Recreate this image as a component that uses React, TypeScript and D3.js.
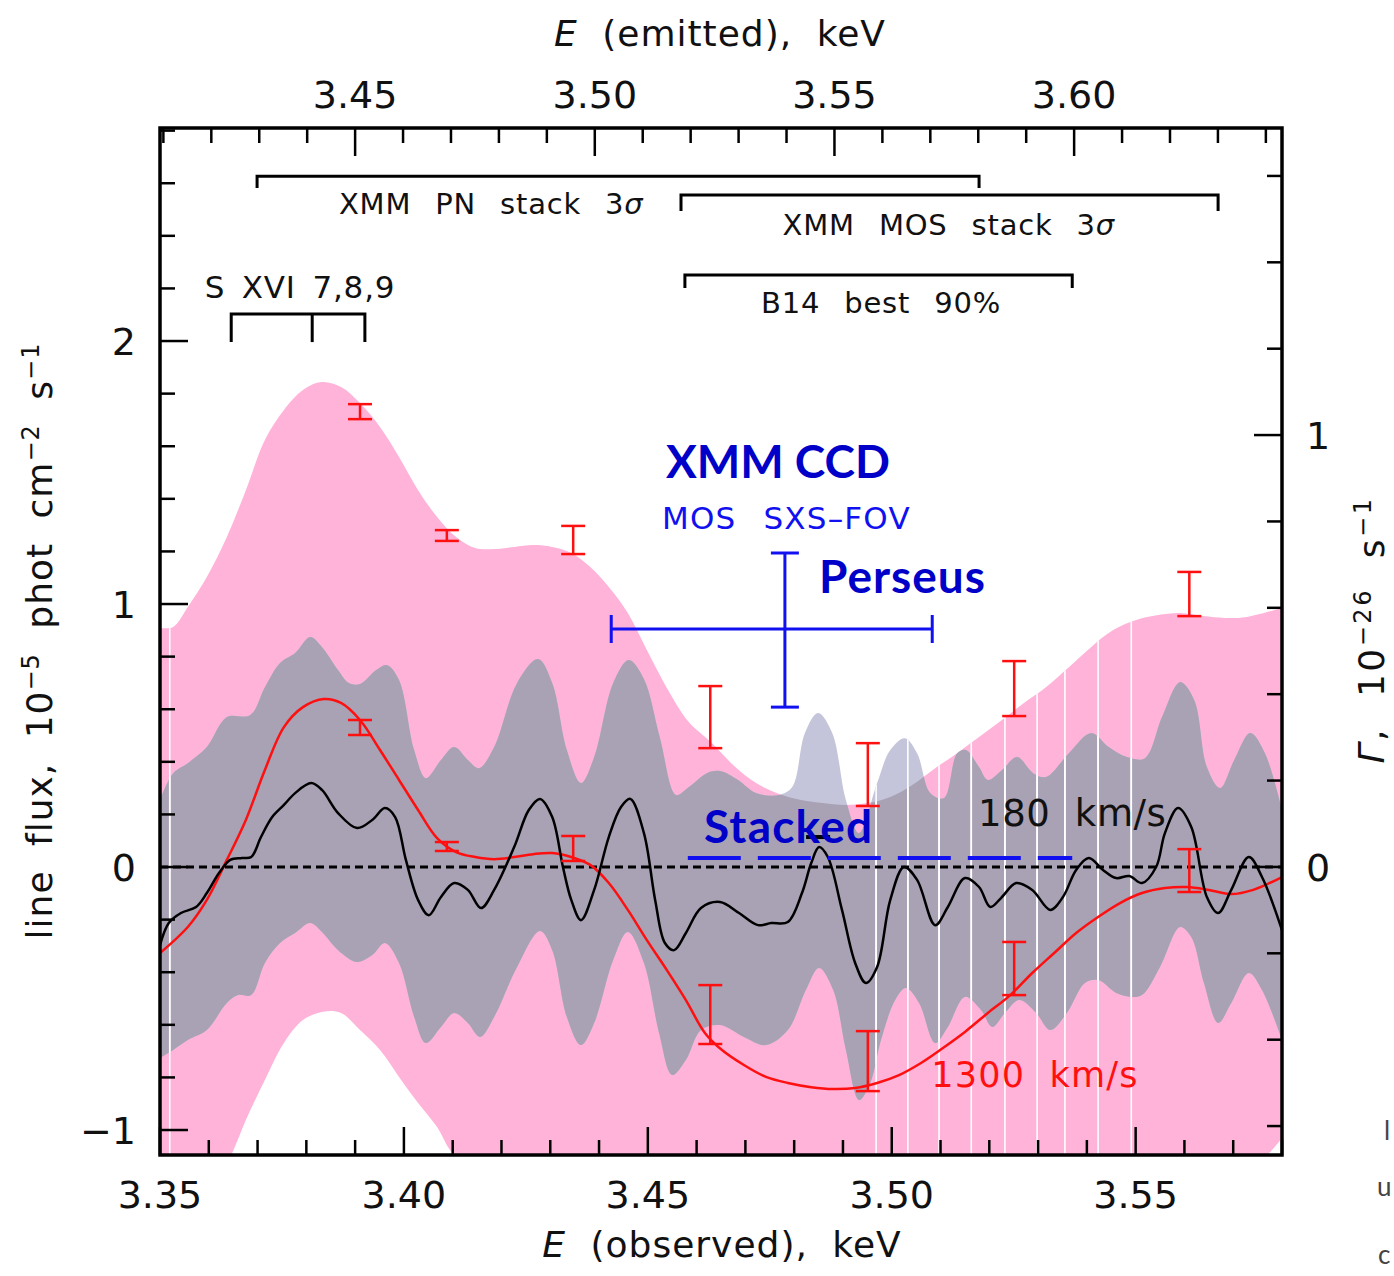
import React from "react";
import * as d3 from "d3";

type Pt = [number, number];

// Perseus redshift, links the observed (bottom) and emitted (top) energy axes
const z = 0.0177;
const obsDomain = [3.35, 3.58];
const fluxDomain = [-1.095, 2.81];
const gammaDomain = [-0.667, 1.711];

const obsTicks = [3.35, 3.4, 3.45, 3.5, 3.55];
const obsTickLabels = ["3.35", "3.40", "3.45", "3.50", "3.55"];
const emitTicks = [3.45, 3.5, 3.55, 3.6];
const emitTickLabels = ["3.45", "3.50", "3.55", "3.60"];
const fluxTicks = [-1, 0, 1, 2];
const fluxTickLabels = ["−1", "0", "1", "2"];
const gammaTicks = [0, 1];
const gammaTickLabels = ["0", "1"];

// 1300 km/s limit band (keV observed, line flux 1e-5)
const pinkUpper: Pt[] = [
  [3.35, 0.909], [3.3527, 0.913], [3.3557, 0.989], [3.3596, 1.103], [3.3637, 1.255],
  [3.3676, 1.433], [3.3715, 1.624], [3.3754, 1.738], [3.3793, 1.814], [3.3832, 1.844],
  [3.3871, 1.825], [3.391, 1.764], [3.3951, 1.673], [3.399, 1.559], [3.4029, 1.433],
  [3.4068, 1.331], [3.4107, 1.255], [3.4146, 1.213], [3.4185, 1.209], [3.4226, 1.217],
  [3.4265, 1.224], [3.4304, 1.217], [3.4343, 1.194], [3.4382, 1.141], [3.442, 1.065],
  [3.4459, 0.966], [3.4498, 0.825], [3.4539, 0.681], [3.4584, 0.551], [3.4629, 0.475],
  [3.4677, 0.384], [3.4722, 0.319], [3.4769, 0.278], [3.4814, 0.255], [3.4859, 0.243],
  [3.4904, 0.236], [3.4951, 0.243], [3.4997, 0.266], [3.5042, 0.312], [3.5089, 0.376],
  [3.5134, 0.433], [3.5179, 0.494], [3.5226, 0.559], [3.5271, 0.624], [3.5316, 0.684],
  [3.5363, 0.76], [3.5409, 0.837], [3.5454, 0.901], [3.5501, 0.939], [3.5546, 0.958],
  [3.5591, 0.966], [3.5638, 0.954], [3.5683, 0.947], [3.5728, 0.951], [3.58, 0.985],
];
const pinkLower: Pt[] = [
  [3.35, -1.53], [3.3582, -1.32], [3.3648, -1.087], [3.3676, -0.962], [3.3715, -0.81],
  [3.3754, -0.669], [3.3793, -0.582], [3.3832, -0.551], [3.3871, -0.555], [3.391, -0.62],
  [3.3951, -0.696], [3.399, -0.798], [3.4029, -0.897], [3.4068, -0.989], [3.4099, -1.087],
  [3.4156, -1.171], [3.4238, -1.133], [3.4289, -1.099], [3.4341, -1.152], [3.4443, -1.456],
  [3.4607, -1.95], [3.4812, -2.14], [3.5017, -2.1], [3.5222, -1.91], [3.5427, -1.53],
  [3.5591, -1.266], [3.5714, -1.133], [3.5759, -1.11], [3.58, -1.03],
];

// 180 km/s band
const grayUpper: Pt[] = [
  [3.35, 0.255], [3.3527, 0.357], [3.3557, 0.395], [3.3596, 0.456], [3.3637, 0.57],
  [3.3685, 0.578], [3.3715, 0.684], [3.3746, 0.776], [3.3777, 0.814], [3.3808, 0.875],
  [3.3832, 0.837], [3.3865, 0.749], [3.3887, 0.7], [3.391, 0.696], [3.3943, 0.749],
  [3.3965, 0.768], [3.399, 0.711], [3.4021, 0.445], [3.4045, 0.338], [3.4076, 0.407],
  [3.4103, 0.456], [3.4131, 0.407], [3.4154, 0.376], [3.4185, 0.456], [3.4232, 0.7],
  [3.4275, 0.791], [3.4304, 0.7], [3.4334, 0.445], [3.4363, 0.319], [3.439, 0.418],
  [3.4429, 0.7], [3.4461, 0.787], [3.4492, 0.715], [3.4525, 0.49], [3.4558, 0.274],
  [3.4584, 0.304], [3.4621, 0.357], [3.4648, 0.365], [3.4685, 0.331], [3.4722, 0.281],
  [3.4769, 0.274], [3.4796, 0.304], [3.4822, 0.51], [3.4849, 0.586], [3.4878, 0.51],
  [3.4906, 0.255], [3.4933, 0.129], [3.497, 0.319], [3.4997, 0.445], [3.5027, 0.49],
  [3.5052, 0.433], [3.5079, 0.281], [3.5107, 0.262], [3.5134, 0.433], [3.5152, 0.445],
  [3.5179, 0.38], [3.5197, 0.331], [3.5226, 0.369], [3.5257, 0.418], [3.529, 0.357],
  [3.5316, 0.342], [3.5363, 0.433], [3.5409, 0.51], [3.5445, 0.456], [3.5482, 0.418],
  [3.5519, 0.414], [3.5554, 0.57], [3.5591, 0.703], [3.562, 0.635], [3.5646, 0.38],
  [3.5673, 0.3], [3.5702, 0.407], [3.5735, 0.51], [3.5765, 0.433], [3.58, 0.217],
];
const grayLower: Pt[] = [
  [3.35, -0.726], [3.3527, -0.696], [3.3557, -0.658], [3.3596, -0.62], [3.3637, -0.517],
  [3.366, -0.487], [3.3687, -0.487], [3.3715, -0.365], [3.3746, -0.289], [3.3777, -0.251],
  [3.3808, -0.213], [3.3832, -0.247], [3.3865, -0.316], [3.3904, -0.361], [3.3935, -0.335],
  [3.3961, -0.289], [3.399, -0.365], [3.4021, -0.57], [3.4045, -0.669], [3.4076, -0.608],
  [3.4103, -0.555], [3.4131, -0.593], [3.4156, -0.646], [3.4185, -0.57], [3.4232, -0.38],
  [3.4279, -0.243], [3.4304, -0.316], [3.4334, -0.57], [3.4363, -0.677], [3.439, -0.593],
  [3.4429, -0.354], [3.4459, -0.247], [3.4492, -0.365], [3.4523, -0.631], [3.455, -0.791],
  [3.4578, -0.734], [3.4609, -0.62], [3.4648, -0.601], [3.4697, -0.646], [3.4742, -0.677],
  [3.4787, -0.62], [3.4824, -0.468], [3.4851, -0.384], [3.488, -0.468], [3.4906, -0.696],
  [3.4933, -0.886], [3.4956, -0.821], [3.4978, -0.658], [3.5007, -0.506], [3.5029, -0.46],
  [3.5056, -0.517], [3.5089, -0.669], [3.5115, -0.608], [3.515, -0.494], [3.5183, -0.544],
  [3.5206, -0.608], [3.5232, -0.555], [3.5261, -0.506], [3.5296, -0.555], [3.5325, -0.62],
  [3.5359, -0.555], [3.5396, -0.441], [3.5423, -0.43], [3.546, -0.479], [3.5491, -0.494],
  [3.5513, -0.487], [3.555, -0.38], [3.5591, -0.228], [3.5614, -0.266], [3.564, -0.441],
  [3.5669, -0.593], [3.5696, -0.517], [3.5732, -0.403], [3.5759, -0.468], [3.58, -0.658],
];

// best-fit line flux, 1300 km/s (red) and 180 km/s (black)
const broadFit: Pt[] = [
  [3.35, -0.327], [3.3557, -0.228], [3.3596, -0.125], [3.3637, 0.027], [3.3676, 0.179],
  [3.3715, 0.369], [3.3754, 0.532], [3.3793, 0.608], [3.3836, 0.639], [3.3871, 0.624],
  [3.391, 0.559], [3.3951, 0.445], [3.399, 0.331], [3.4029, 0.217], [3.4068, 0.11],
  [3.4107, 0.057], [3.4146, 0.038], [3.4185, 0.03], [3.4226, 0.038], [3.4265, 0.049],
  [3.4304, 0.053], [3.4343, 0.038], [3.4382, 0.008], [3.442, -0.061], [3.4459, -0.163],
  [3.4498, -0.278], [3.4539, -0.392], [3.4578, -0.506], [3.4617, -0.631], [3.4652, -0.696],
  [3.4697, -0.753], [3.4742, -0.798], [3.4787, -0.821], [3.4835, -0.837], [3.488, -0.844],
  [3.4925, -0.84], [3.497, -0.821], [3.5015, -0.791], [3.506, -0.745], [3.5105, -0.688],
  [3.515, -0.627], [3.5197, -0.555], [3.5243, -0.487], [3.5288, -0.403], [3.5333, -0.327],
  [3.5378, -0.251], [3.5423, -0.19], [3.5468, -0.137], [3.5513, -0.099], [3.556, -0.08],
  [3.5605, -0.076], [3.565, -0.087], [3.5696, -0.103], [3.5741, -0.087], [3.58, -0.038],
];
const narrowFit: Pt[] = [
  [3.35, -0.297], [3.3518, -0.213], [3.3543, -0.175], [3.3574, -0.152], [3.3596, -0.099],
  [3.3621, -0.023], [3.3644, 0.027], [3.3668, 0.034], [3.3687, 0.038], [3.3707, 0.114],
  [3.373, 0.19], [3.3754, 0.236], [3.3777, 0.281], [3.381, 0.319], [3.3832, 0.293],
  [3.3865, 0.205], [3.3904, 0.148], [3.3935, 0.179], [3.3961, 0.224], [3.3982, 0.19],
  [3.4004, 0.027], [3.4029, -0.125], [3.4051, -0.183], [3.4076, -0.114], [3.4103, -0.061],
  [3.4131, -0.087], [3.4158, -0.156], [3.4185, -0.087], [3.4226, 0.076], [3.4256, 0.217],
  [3.4279, 0.259], [3.4304, 0.19], [3.4326, 0.0], [3.4343, -0.125], [3.4363, -0.202],
  [3.439, -0.087], [3.442, 0.114], [3.4445, 0.228], [3.4464, 0.259], [3.4492, 0.129],
  [3.4515, -0.125], [3.4535, -0.289], [3.4554, -0.316], [3.4578, -0.251], [3.4609, -0.156],
  [3.4648, -0.133], [3.4687, -0.175], [3.4726, -0.221], [3.4753, -0.213], [3.4787, -0.209],
  [3.4816, -0.099], [3.4835, 0.015], [3.4851, 0.076], [3.4869, 0.038], [3.4898, -0.163],
  [3.4925, -0.365], [3.4947, -0.441], [3.497, -0.38], [3.4997, -0.125], [3.5025, 0.0],
  [3.5052, -0.049], [3.5089, -0.221], [3.5115, -0.152], [3.515, -0.042], [3.5179, -0.076],
  [3.5202, -0.152], [3.5224, -0.118], [3.5255, -0.061], [3.5288, -0.087], [3.5325, -0.163],
  [3.5351, -0.114], [3.5378, -0.011], [3.5404, 0.034], [3.5433, -0.011], [3.546, -0.042],
  [3.5487, -0.034], [3.5513, -0.061], [3.5542, 0.0], [3.556, 0.129], [3.5587, 0.224],
  [3.5614, 0.152], [3.5646, -0.114], [3.5669, -0.175], [3.5696, -0.087], [3.5732, 0.038],
  [3.5759, -0.038], [3.58, -0.24],
];

// red error bars: upper limits and fitted fluxes at the same energies
const errE = [3.391, 3.4088, 3.4347, 3.4628, 3.4951, 3.5251, 3.561];
const limitHi = [1.76, 1.281, 1.297, 0.688, 0.471, 0.783, 1.122];
const limitLo = [1.703, 1.24, 1.19, 0.452, 0.232, 0.574, 0.954];
const fitHi = [0.559, 0.095, 0.118, -0.449, -0.624, -0.285, 0.068];
const fitLo = [0.502, 0.061, 0.023, -0.673, -0.852, -0.487, -0.095];

// XMM CCD Perseus point and stacked level
const perseusE = [3.4425, 3.4781, 3.5083];
const perseusFlux = [0.608, 0.905, 1.194];
const stackedE = [3.4582, 3.537];
const stackedFlux = 0.034;
const blackMark: Pt = [3.4849, 0.114];

// line-energy brackets
const pnRange = [3.3699, 3.5179];
const mosRange = [3.4568, 3.5669];
const b14Range = [3.4576, 3.537];
const sxviLines = [3.3646, 3.3812, 3.392];

// white gaps in the shaded bands of the original rendering
const seamE = [3.352, 3.4968, 3.5033, 3.5097, 3.5163, 3.5232, 3.5298, 3.5355, 3.5423, 3.5491];

const PG = "'DejaVu Sans', sans-serif";
const CAL = "Lato, 'Open Sans', sans-serif";

export default function App() {
  const W = 1394, H = 1276;
  const left = 160, right = 1282, top = 128, bottom = 1155;

  const x = d3.scaleLinear().domain(obsDomain).range([left, right]);
  const xEmit = d3.scaleLinear().domain(obsDomain.map(e => e * (1 + z))).range([left, right]);
  const y = d3.scaleLinear().domain(fluxDomain).range([bottom, top]);
  const yG = d3.scaleLinear().domain(gammaDomain).range([bottom, top]);

  const line = d3.line<Pt>().x(d => x(d[0])).y(d => y(d[1])).curve(d3.curveCatmullRom.alpha(0.5));
  const band = (up: Pt[], lo: Pt[]) => `${line(up)}L${(line([...lo].reverse()) as string).slice(1)}Z`;
  const pinkD = band(pinkUpper, pinkLower);
  const grayD = band(grayUpper, grayLower);

  const obsMinor = d3.range(335, 359).map(v => v / 100);
  const emitMinor = d3.range(341, 365).map(v => v / 100).filter(e => xEmit(e) >= left && xEmit(e) <= right);
  const fluxMinor = d3.range(-5, 15).map(v => v / 5);
  const gammaMinor = d3.range(-3, 9).map(v => v / 5);
  const isMajor = (v: number, step: number) => Math.abs(v / step - Math.round(v / step)) < 1e-6;
  const MAJ = 28, MIN = 15;

  const red = "#ff1010";
  const blue = "#1010f0";
  const dark = "#0000c8";

  const bracket = (r: number[], level: number, drop: number) => (
    <path d={`M${x(r[0])},${y(drop)}V${y(level)}H${x(r[1])}V${y(drop)}`} fill="none" stroke="#000" strokeWidth={3} />
  );

  const seams = seamE.map((e, i) => (
    <line key={i} x1={x(e)} x2={x(e)} y1={top} y2={bottom} stroke="#fff" strokeWidth={1.6} />
  ));

  const pgText = { fontFamily: PG, letterSpacing: 0.8, wordSpacing: 14 } as React.CSSProperties;

  return (
    <svg width={W} height={H} style={{ position: "absolute", left: 0, top: 0, background: "#fff" }}>
      <defs>
        <clipPath id="plotClip"><rect x={left} y={top} width={right - left} height={bottom - top} /></clipPath>
        <clipPath id="pinkClip"><path d={pinkD} /></clipPath>
        <clipPath id="grayClip"><path d={grayD} /></clipPath>
      </defs>

      <g clipPath="url(#plotClip)">
        <path d={pinkD} fill="#ffb3d9" />
        <path d={grayD} fill="#c4c4da" />
        <g clipPath="url(#pinkClip)"><path d={grayD} fill="#a9a1b4" /></g>
        <g clipPath="url(#pinkClip)">{seams}</g>
        <g clipPath="url(#grayClip)">{seams}</g>

        <line x1={left} x2={right} y1={y(0)} y2={y(0)} stroke="#000" strokeWidth={3} strokeDasharray="8 5" />

        <path d={line(broadFit) as string} fill="none" stroke={red} strokeWidth={2.5} />
        <path d={line(narrowFit) as string} fill="none" stroke="#000" strokeWidth={2.5} />

        {errE.map((e, i) => (
          <g key={i} stroke={red} strokeWidth={2.5}>
            {[[limitLo[i], limitHi[i]], [fitLo[i], fitHi[i]]].map(([lo, hi], j) => (
              <g key={j}>
                <line x1={x(e)} x2={x(e)} y1={y(lo)} y2={y(hi)} />
                <line x1={x(e) - 12} x2={x(e) + 12} y1={y(lo)} y2={y(lo)} />
                <line x1={x(e) - 12} x2={x(e) + 12} y1={y(hi)} y2={y(hi)} />
              </g>
            ))}
          </g>
        ))}

        <line x1={x(blackMark[0]) - 12} x2={x(blackMark[0]) + 12} y1={y(blackMark[1])} y2={y(blackMark[1])} stroke="#000" strokeWidth={4} />

        <line x1={x(stackedE[0])} x2={x(stackedE[1])} y1={y(stackedFlux)} y2={y(stackedFlux)} stroke={blue} strokeWidth={4} strokeDasharray="53 17" />

        <g stroke={blue} strokeWidth={3}>
          <line x1={x(perseusE[0])} x2={x(perseusE[2])} y1={y(perseusFlux[1])} y2={y(perseusFlux[1])} />
          <line x1={x(perseusE[0])} x2={x(perseusE[0])} y1={y(perseusFlux[1]) - 14} y2={y(perseusFlux[1]) + 14} />
          <line x1={x(perseusE[2])} x2={x(perseusE[2])} y1={y(perseusFlux[1]) - 14} y2={y(perseusFlux[1]) + 14} />
          <line x1={x(perseusE[1])} x2={x(perseusE[1])} y1={y(perseusFlux[0])} y2={y(perseusFlux[2])} />
          <line x1={x(perseusE[1]) - 14} x2={x(perseusE[1]) + 14} y1={y(perseusFlux[0])} y2={y(perseusFlux[0])} />
          <line x1={x(perseusE[1]) - 14} x2={x(perseusE[1]) + 14} y1={y(perseusFlux[2])} y2={y(perseusFlux[2])} />
        </g>
      </g>

      {/* brackets and labels */}
      {bracket(pnRange, 2.627, 2.582)}
      {bracket(mosRange, 2.555, 2.494)}
      {bracket(b14Range, 2.251, 2.202)}
      {bracket([sxviLines[0], sxviLines[2]], 2.103, 1.996)}
      <line x1={x(sxviLines[1])} x2={x(sxviLines[1])} y1={y(2.103)} y2={y(1.996)} stroke="#000" strokeWidth={3} />

      <g style={pgText} fontSize={29} fill="#111">
        <text x={x(3.4179)} y={y(2.483)} textAnchor="middle">XMM PN stack 3<tspan fontStyle="italic">σ</tspan></text>
        <text x={x(3.5117)} y={y(2.403)} textAnchor="middle">XMM MOS stack 3<tspan fontStyle="italic">σ</tspan></text>
        <text x={x(3.4978)} y={y(2.106)} textAnchor="middle">B14 best 90%</text>
        <text x={x(3.3787)} y={y(2.163)} textAnchor="middle" fontSize={31} style={{ ...pgText, wordSpacing: 6 }}>S XVI 7,8,9</text>
      </g>

      <g style={{ fontFamily: PG, letterSpacing: 0.6, wordSpacing: 12 }} fontSize={37}>
        <text x={x(3.5177)} y={y(0.156)} fill="#111">180 km/s</text>
        <text x={x(3.5081)} y={y(-0.837)} fill={red} fontSize={35} letterSpacing={1.2}>1300 km/s</text>
      </g>

      <g fontFamily={CAL} fontWeight="bold" fill={dark} fontSize={46}>
        <text x={x(3.4537)} y={y(1.479)}>XMM CCD</text>
        <text x={x(3.4851)} y={y(1.042)} letterSpacing={1}>Perseus</text>
        <text x={x(3.4615)} y={y(0.091)} letterSpacing={1.2}>Stacked</text>
      </g>
      <text x={x(3.4529)} y={y(1.285)} style={{ ...pgText, wordSpacing: 16, letterSpacing: 1.2 }} fontSize={31} fill={blue}>MOS SXS–FOV</text>

      {/* frame and ticks */}
      <g stroke="#000" strokeWidth={2.5}>
        {obsMinor.map((v, i) => {
          const L = isMajor(v, 0.05) ? MAJ : MIN;
          return <line key={"b" + i} x1={x(v)} x2={x(v)} y1={bottom} y2={bottom - L} />;
        })}
        {emitMinor.map((v, i) => {
          const L = isMajor(v, 0.05) ? MAJ : MIN;
          return <line key={"t" + i} x1={xEmit(v)} x2={xEmit(v)} y1={top} y2={top + L} />;
        })}
        {fluxMinor.map((v, i) => {
          const L = isMajor(v, 1) ? MAJ : MIN;
          return <line key={"l" + i} x1={left} x2={left + L} y1={y(v)} y2={y(v)} />;
        })}
        {gammaMinor.map((v, i) => {
          const L = isMajor(v, 1) ? MAJ : MIN;
          return <line key={"r" + i} x1={right} x2={right - L} y1={yG(v)} y2={yG(v)} />;
        })}
      </g>
      <rect x={left} y={top} width={right - left} height={bottom - top} fill="none" stroke="#000" strokeWidth={3.5} />

      <g fontFamily={PG} fontSize={38} fill="#111">
        {obsTicks.map((v, i) => (
          <text key={"bl" + i} x={x(v)} y={bottom + 53} textAnchor="middle">{obsTickLabels[i]}</text>
        ))}
        {emitTicks.map((v, i) => (
          <text key={"tl" + i} x={xEmit(v)} y={top - 20} textAnchor="middle">{emitTickLabels[i]}</text>
        ))}
        {fluxTicks.map((v, i) => (
          <text key={"ll" + i} x={left - 24} y={y(v) + 14} textAnchor="end">{fluxTickLabels[i]}</text>
        ))}
        {gammaTicks.map((v, i) => (
          <text key={"rl" + i} x={right + 24} y={yG(v) + 14}>{gammaTickLabels[i]}</text>
        ))}
      </g>

      {/* axis titles */}
      <g style={{ fontFamily: PG, letterSpacing: 1, wordSpacing: 12 }} fontSize={36} fill="#111">
        <text x={720} y={46} textAnchor="middle"><tspan fontStyle="italic">E</tspan> (emitted), keV</text>
        <text x={722} y={1257} textAnchor="middle"><tspan fontStyle="italic">E</tspan> (observed), keV</text>
        <text transform="translate(52,641) rotate(-90)" textAnchor="middle">
          line flux, 10<tspan fontSize={24} dy={-13}>−5</tspan>
          <tspan dy={13}> phot cm</tspan><tspan fontSize={24} dy={-13}>−2</tspan>
          <tspan dy={13}> s</tspan><tspan fontSize={24} dy={-13}>−1</tspan>
        </text>
        <text transform="translate(1384,630) rotate(-90)" textAnchor="middle" style={{ fontFamily: PG, letterSpacing: 2.5, wordSpacing: 16 }}>
          <tspan fontStyle="italic">Γ</tspan>, 10<tspan fontSize={24} dy={-13}>−26</tspan>
          <tspan dy={13}> s</tspan><tspan fontSize={24} dy={-13}>−1</tspan>
        </text>
      </g>

      {/* glyphs at the right edge of the source image */}
      <g fontFamily={CAL} fontSize={26} fill="#444">
        <text x={1384} y={1140}>l</text>
        <text x={1377} y={1196}>u</text>
        <text x={1378} y={1264}>c</text>
      </g>
    </svg>
  );
}
